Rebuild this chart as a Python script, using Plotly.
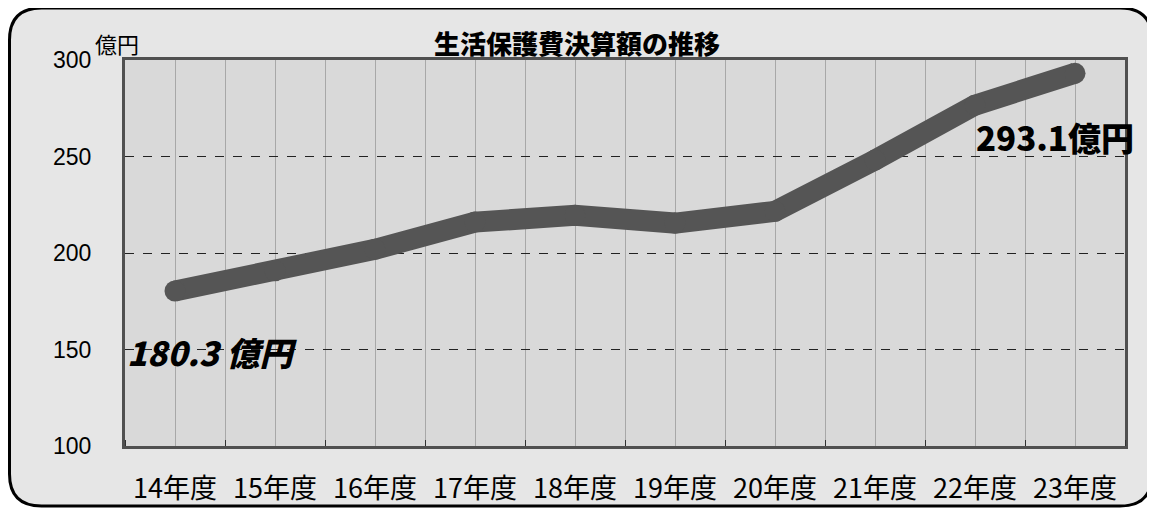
import plotly.graph_objects as go

years = ["14年度", "15年度", "16年度", "17年度", "18年度", "19年度", "20年度", "21年度", "22年度", "23年度"]
values = [180.3, 190.8, 201.9, 216.0, 219.5, 215.5, 221.6, 248.2, 276.6, 293.1]
y_ticks = [100, 150, 200, 250, 300]

xi = list(range(len(years)))
# page body has an 8px margin, so the figure is laid out in shifted coordinates
W, H = 1147, 510
ML, MR, MT, MB = 117, 30, 52, 68

fig = go.Figure()
fig.add_trace(go.Scatter(
    x=xi, y=values, mode="lines+markers",
    line=dict(color="#555555", width=21),
    marker=dict(color="#555555", size=21, line=dict(width=0)),
    hoverinfo="skip", showlegend=False,
))

def P(X, Y):
    return f"{X - ML},{(H - MB) - Y}"

x0, y0, x1, y1, r = 1.5, 4, 1144, 502, 32
path = (f"M{P(x0 + r, y0)} L{P(x1 - r, y0)} Q{P(x1, y0)} {P(x1, y0 + r)} "
        f"L{P(x1, y1 - r)} Q{P(x1, y1)} {P(x1 - r, y1)} "
        f"L{P(x0 + r, y1)} Q{P(x0, y1)} {P(x0, y1 - r)} "
        f"L{P(x0, y0 + r)} Q{P(x0, y0)} {P(x0 + r, y0)} Z")
fig.add_shape(type="path", path=path, xref="paper", yref="paper",
              xsizemode="pixel", ysizemode="pixel", xanchor=0, yanchor=0,
              line=dict(color="black", width=3), fillcolor="#e6e6e6", layer="below")
fig.add_shape(type="rect", xref="paper", yref="paper", x0=0, x1=1, y0=0, y1=1,
              line=dict(width=0), fillcolor="#d9d9d9", layer="below")

jp = "Noto Sans CJK JP"
fig.update_layout(
    width=W, height=H,
    margin=dict(l=ML, r=MR, t=MT, b=MB),
    paper_bgcolor="white",
    plot_bgcolor="rgba(0,0,0,0)",
    title=dict(text="生活保護費決算額の推移", x=569 / W, xanchor="center", y=1 - 37 / H, yanchor="middle",
               font=dict(family=jp, size=26, color="black", weight=900)),
    xaxis=dict(
        range=[-0.5, len(years) - 0.5],
        tickmode="array", tickvals=xi, ticktext=years,
        showgrid=True, gridcolor="#a8a8a8", gridwidth=1,
        ticks="", ticklabelstandoff=17,
        tickfont=dict(family=jp, size=27, color="black"),
        showline=True, linecolor="#505050", linewidth=3, mirror=True,
        zeroline=False, fixedrange=True,
        minor=dict(tickvals=[i - 0.5 for i in range(len(years) + 1)], showgrid=True,
                   gridcolor="#a8a8a8", gridwidth=1, ticks="inside", ticklen=6,
                   tickcolor="#303030", tickwidth=1),
    ),
    yaxis=dict(
        range=[100, 300], tickmode="array", tickvals=y_ticks,
        showgrid=True, gridcolor="#222222", gridwidth=1, griddash="dash",
        ticks="", ticklabelstandoff=26,
        tickfont=dict(family="Liberation Sans", size=23, color="black"),
        showline=True, linecolor="#505050", linewidth=3, mirror=True,
        zeroline=False, fixedrange=True,
    ),
    annotations=[
        dict(text="億円", xref="paper", yref="paper", x=-0.032, y=1.045, xanchor="left", yanchor="middle",
             showarrow=False, font=dict(family=jp, size=22, color="black")),
        dict(text=f"{values[0]} 億円", xref="paper", yref="paper", x=0.0, y=0.244,
             xanchor="left", yanchor="middle", showarrow=False,
             font=dict(family=jp, size=33, color="black", weight=900, style="italic")),
        dict(text=f"{values[-1]}億円", xref="paper", yref="paper", x=0.849, y=0.8,
             xanchor="left", yanchor="middle", showarrow=False,
             font=dict(family=jp, size=33, color="black", weight=900)),
    ],
)

fig.write_html("out.html")
